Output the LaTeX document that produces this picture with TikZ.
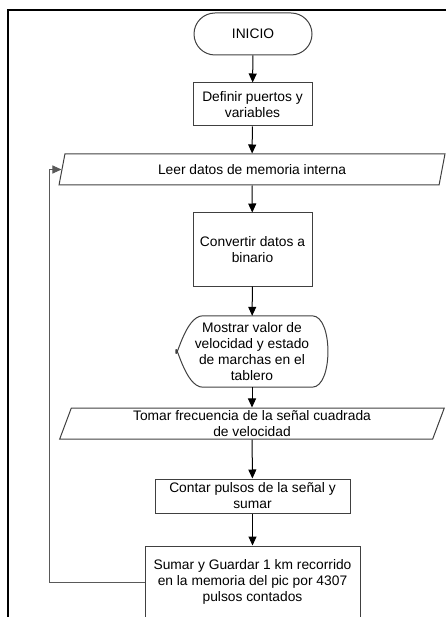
\documentclass[tikz,border=0pt]{standalone}
\usepackage{fontspec}
\setmainfont{Liberation Sans}
\usetikzlibrary{arrows.meta,shapes.geometric}

\tikzset{
    every node/.style={font=\fontsize{13.8}{16}\selectfont, align=center},
    caja/.style={draw=black!75, line width=1pt, minimum width=119, minimum height=43, inner sep=0pt},
    inicio/.style={caja, rounded corners=21, minimum width=118, minimum height=42},
    datos/.style={trapezium, trapezium left angle=73.7, trapezium right angle=106.3,
        trapezium stretches=true, draw=black!75, line width=1pt,
        minimum width=386, minimum height=31, inner sep=0pt},
    flecha/.style={-{Triangle[length=9pt,width=8pt]}, line width=1pt, black},
}

\begin{document}
\begin{tikzpicture}[x=1pt,y=1pt,yscale=-1]
    \useasboundingbox (0,0) rectangle (446,617);
    % marco
    \draw [line width=2.2pt] (8,620) -- (8,10) -- (450,10) ;

    \node [inicio] (inicio) at (253,34) {INICIO};
    \node [caja] (definir) at (252.5,104.5) {Definir puertos y\\variables};
    \node [datos] (leer) at (252,169.5) {Leer datos de memoria interna};
    \node [caja, minimum height=73] (convertir) at (252.5,249.5) {Convertir datos a\\binario};
    \node [minimum width=152, minimum height=71, inner sep=0pt] (mostrar) at (252,351.5)
        {Mostrar valor de\\velocidad y estado\\de marchas en el\\tablero};
    \node [datos] (tomar) at (252,423.5) {Tomar frecuencia de la señal cuadrada\\de velocidad};
    \node [caja, minimum width=195, minimum height=34] (contar) at (252.5,496) {Contar pulsos de la señal y\\sumar};
    \node [caja, minimum width=215, minimum height=72] (sumar) at (252.5,582)
        {Sumar y Guardar 1 km recorrido\\en la memoria del pic por 4307\\pulsos contados};

    % pantalla
    \draw [draw=black!75, line width=1pt, line join=round] ([xshift=27]mostrar.north west) -- ([xshift=-16]mostrar.north east)
        .. controls ([xshift=5]mostrar.north east) and ([xshift=5]mostrar.south east) .. ([xshift=-16]mostrar.south east)
        -- ([xshift=27]mostrar.south west)
        .. controls ([xshift=9]mostrar.south west) and ([yshift=-12]mostrar.west) .. (mostrar.west)
        .. controls ([yshift=12]mostrar.west) and ([xshift=9]mostrar.north west) .. ([xshift=27]mostrar.north west) -- cycle ;

    \draw [flecha] (inicio) -- (definir) ;
    \draw [flecha] (definir) -- (leer) ;
    \draw [flecha] (leer) -- (convertir) ;
    \draw [flecha] (convertir) -- (mostrar) ;
    \draw [flecha] (mostrar) -- (tomar) ;
    \draw [flecha] (tomar) -- (contar) ;
    \draw [flecha] (contar) -- (sumar) ;
    \draw [flecha, draw=black!65] (sumar.west) -- ++(-95,0) |- (leer.west) ;
\end{tikzpicture}
\end{document}
